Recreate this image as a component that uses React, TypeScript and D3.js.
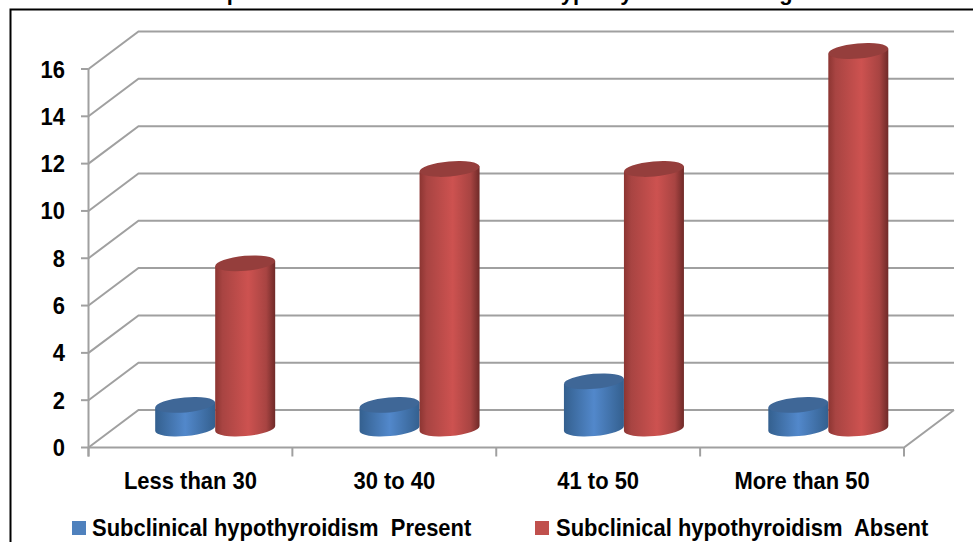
import React from "react";
import * as d3 from "d3";

const categories = ["Less than 30", "30 to 40", "41 to 50", "More than 50"];
const presentValues = [1, 1, 2, 1];
const absentValues = [7, 11, 11, 16];
const yTicks = [0, 2, 4, 6, 8, 10, 12, 14, 16];
const seriesNames = ["Subclinical hypothyroidism  Present", "Subclinical hypothyroidism  Absent"];
const titleText = "Graph I: Correlation of subclinical hypothyroidism with age";

const W = 973, H = 542;
const FONT = "Liberation Sans, Arial, sans-serif";
const GRID = "#a0a0a0";
const dx = 50, dy = -37.5;
const y = d3.scaleLinear().domain([0, 16]).range([447.5, 69]);
const x = d3.scaleBand<string>().domain(categories).range([88.5, 904]);
const xBars = d3.scaleBand<string>().domain(categories).range([88.5, 906]);
const barH = d3.scaleLinear().domain([0, 16]).range([0, 377.5]);
const RX = 30, RY = 7.5, TILT = -5;
const BASE = 428.5;
const NARROW = 0.955;

function Label({ x: tx, y: ty, anchor, children, size = 23 }: { x: number; y: number; anchor: "start" | "middle" | "end"; children: React.ReactNode; size?: number }) {
  return (
    <text transform={`translate(${tx},${ty}) scale(${NARROW},1)`} textAnchor={anchor} fontFamily={FONT} fontWeight="bold" fontSize={size} fill="#000" style={{ whiteSpace: "pre" }}>
      {children}
    </text>
  );
}

function Cyl({ cx, value, id, top }: { cx: number; value: number; id: string; top: string }) {
  const h = barH(value);
  const t = BASE - h;
  const a = (TILT * Math.PI) / 180;
  const ex = RX, ey = RX * Math.sin(a);
  const body = `M${cx - ex},${t - ey} L${cx - ex},${BASE - ey} A${RX},${RY} ${TILT} 0 0 ${cx + ex},${BASE + ey} L${cx + ex},${t + ey} Z`;
  return (
    <g>
      <path d={body} fill={`url(#${id})`} />
      <ellipse cx={cx} cy={t} rx={RX} ry={RY} fill={top} transform={`rotate(${TILT} ${cx} ${t})`} />
    </g>
  );
}

export default function App() {
  const bw = x.bandwidth();
  const [x0, x1] = x.range();
  const xc = (c: string) => (xBars(c) as number) + xBars.bandwidth() / 2 + 24.5;
  return (
    <svg width={W} height={H} viewBox={`0 0 ${W} ${H}`} style={{ position: "absolute", left: 0, top: 0, background: "#fff" }}>
      <defs>
        <linearGradient id="blue" x1="0" x2="1" y1="0" y2="0">
          <stop offset="0" stopColor="#34608f" />
          <stop offset="0.5" stopColor="#5288cb" />
          <stop offset="1" stopColor="#34608f" />
        </linearGradient>
        <linearGradient id="red" x1="0" x2="1" y1="0" y2="0">
          <stop offset="0" stopColor="#8c3532" />
          <stop offset="0.12" stopColor="#a84442" />
          <stop offset="0.55" stopColor="#cd5250" />
          <stop offset="0.85" stopColor="#a84442" />
          <stop offset="1" stopColor="#6f2a28" />
        </linearGradient>
      </defs>
      <Label x={497} y={0} anchor="middle" size={22.9}>{titleText}</Label>
      <path d={`M10.5,${H} V9.5 H${W}`} fill="none" stroke="#000" strokeWidth={2} />
      {yTicks.map((v) => (
        <g key={v}>
          <path d={`M${x0},${y(v)} L${x0 + dx},${y(v) + dy} H${x1 + dx}`} fill="none" stroke={GRID} strokeWidth={2} />
          <line x1={81} x2={x0} y1={y(v)} y2={y(v)} stroke={GRID} strokeWidth={2} />
          <Label x={65} y={y(v) + 8.5} anchor="end">{v}</Label>
        </g>
      ))}
      <line x1={x0} x2={x0} y1={y(16)} y2={y(0) + 9} stroke={GRID} strokeWidth={2} />
      <path d={`M${x0},${y(0)} H${x1} L${x1 + dx},${y(0) + dy}`} fill="none" stroke={GRID} strokeWidth={2} />
      {[...categories.map((c) => x(c) as number), x1].map((t, i) => (
        <line key={i} x1={t} x2={t} y1={y(0)} y2={y(0) + 9} stroke={GRID} strokeWidth={2} />
      ))}
      {categories.map((c, i) => (
        <g key={c}>
          <Cyl cx={xc(c) - 30} value={presentValues[i]} id="blue" top="#3f6797" />
          <Cyl cx={xc(c) + 30} value={absentValues[i]} id="red" top="#953e3c" />
          <Label x={(x(c) as number) + bw / 2} y={489} anchor="middle">{c}</Label>
        </g>
      ))}
      <rect x={72} y={521} width={14} height={14} fill="#4f81bd" />
      <Label x={92} y={536} anchor="start">{seriesNames[0]}</Label>
      <rect x={535} y={521} width={14} height={14} fill="#c0504d" />
      <Label x={556} y={536} anchor="start">{seriesNames[1]}</Label>
    </svg>
  );
}
